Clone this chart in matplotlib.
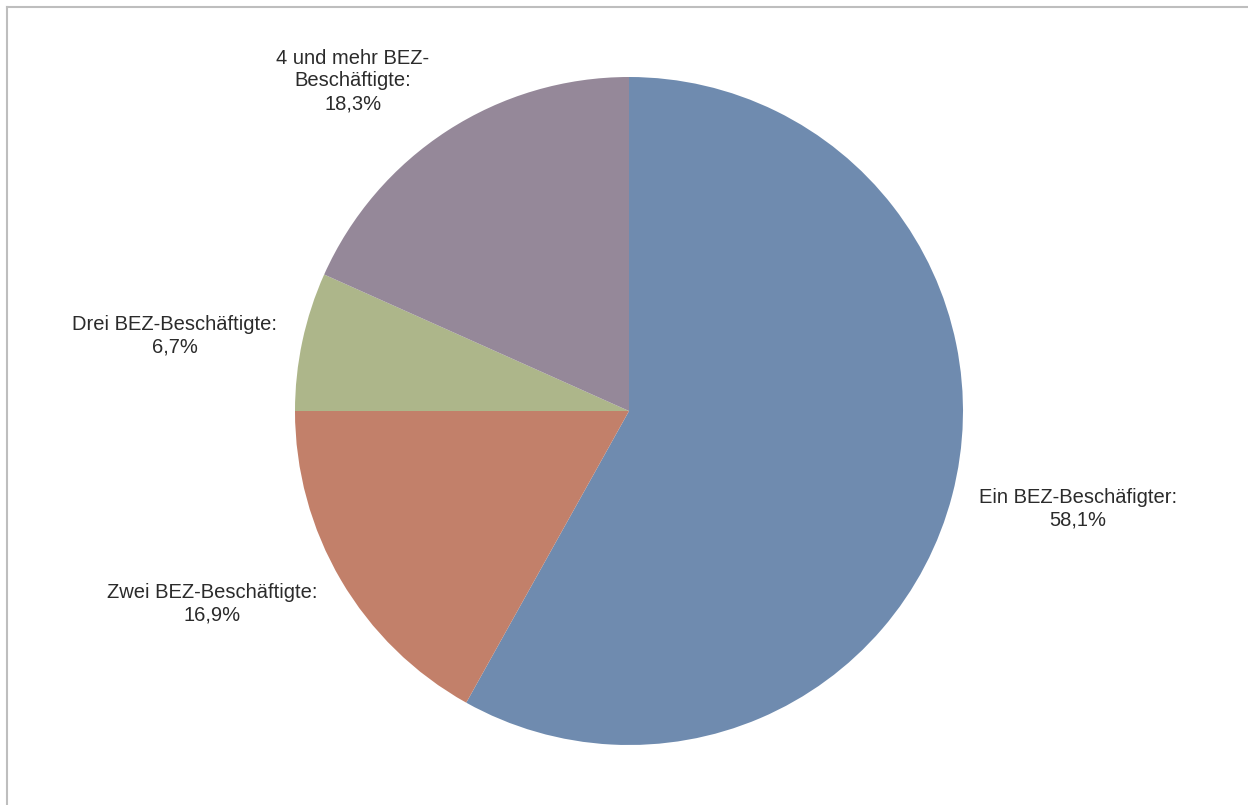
import matplotlib

matplotlib.use("Agg")
import matplotlib.pyplot as plt
from matplotlib.lines import Line2D

labels = [
    "Ein BEZ-Beschäfigter:",
    "Zwei BEZ-Beschäftigte:",
    "Drei BEZ-Beschäftigte:",
    "4 und mehr BEZ-\nBeschäftigte:",
]
shares = [58.1, 16.9, 6.7, 18.3]
colors = ["#6F8BAF", "#C2806A", "#ADB68A", "#958899"]

# label anchor points in pixel space (figure 1248 x 805, origin top-left)
label_pos = [(1078, 509), (212, 604), (175, 336), (353, 81)]

W, H = 1248, 805
plt.rcParams["font.family"] = ["Liberation Sans", "DejaVu Sans"]

fig = plt.figure(figsize=(W / 100, H / 100), dpi=100)
ax = fig.add_axes([0, 0, 1, 1])

ax.pie(
    shares,
    colors=colors,
    startangle=90,
    counterclock=False,
    center=(629, H - 411),
    radius=334,
    frame=True,
    wedgeprops={"linewidth": 0},
)
ax.set_xlim(0, W)
ax.set_ylim(0, H)
ax.set_aspect("equal")
ax.axis("off")

for lab, val, (px, py) in zip(labels, shares, label_pos):
    txt = f"{lab}\n{val:.1f}%".replace(".", ",")
    ax.text(px, H - py, txt, ha="center", va="center", fontsize=14.5,
            color="#2B2B2B", linespacing=1.24)

# outer chart-area frame (only top and left edges fall inside the image)
fig.add_artist(Line2D([6.5 / W, 1], [1 - 7.5 / H, 1 - 7.5 / H],
                      transform=fig.transFigure, color="#BEBEBE", lw=1.5))
fig.add_artist(Line2D([6.5 / W, 6.5 / W], [0, 1 - 7.5 / H],
                      transform=fig.transFigure, color="#BEBEBE", lw=1.5))

fig.savefig("out.png", dpi=100)
